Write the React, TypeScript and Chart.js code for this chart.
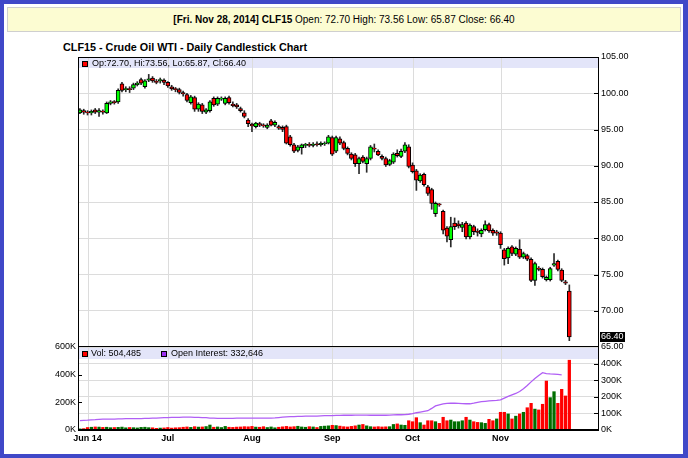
import React, { useEffect, useRef } from "react";
import { Chart, registerables } from "chart.js";

Chart.register(...registerables);

const SYMBOL = "CLF15";
const CHART_TITLE = "CLF15 - Crude Oil WTI - Daily Candlestick Chart";
const LAST_DATE_LABEL = "Fri. Nov 28, 2014";
const FIRST_DATE = "2014-05-29";
const HOLIDAYS = ["2014-07-04", "2014-09-01", "2014-11-27"];
const EMPTY_SLOTS = 7;

const monthStartDates = ["2014-06-02", "2014-07-01", "2014-08-01", "2014-09-02", "2014-10-01", "2014-11-03"];
const monthTickLabels = ["Jun 14", "Jul", "Aug", "Sep", "Oct", "Nov"];

const opens = [
  97.3, 97.6, 97.4, 97.3, 97.7, 97.4, 97.5, 97.3, 98.6, 98.8,
  98.8, 101.3, 100.5, 100.6, 100.7, 101.2, 101.9, 100.9, 101.8, 102.1,
  101.6, 101.7, 101.8, 101.5, 100.9, 100.6, 100.5, 100.1, 99.8, 98.7,
  99.4, 97.8, 98.4, 97.4, 97.6, 99.3, 98.5, 99.2, 98.6, 99.4,
  98.5, 98.4, 97.9, 97.3, 96.3, 95.7, 95.4, 95.8, 95.6, 95.3,
  96.2, 95.6, 95.4, 95.3, 95.4, 94.0, 92.9, 92.1, 92.5, 92.8,
  92.9, 92.8, 93.0, 92.9, 93.0, 93.1, 93.9, 92.0, 93.7, 93.2,
  92.4, 91.6, 91.5, 90.3, 91.2, 90.3, 91.0, 92.4, 92.0, 91.3,
  91.0, 90.2, 90.5, 91.7, 91.3, 92.0, 92.6, 90.1, 89.3, 87.9,
  88.8, 87.1, 86.7, 83.4, 84.7, 83.7, 81.4, 79.8, 82.1, 82.0,
  81.5, 82.1, 80.2, 81.6, 81.0, 80.6, 81.2, 81.9, 81.1, 80.9,
  80.7, 78.4, 77.3, 78.8, 77.8, 78.5, 77.4, 77.6, 77.1, 74.2,
  75.9, 75.7, 74.3, 74.3, 76.3, 76.8, 75.6, 74.0, 72.70,
];
const highs = [
  97.9, 97.8, 97.6, 97.7, 97.9, 97.9, 97.7, 98.8, 99.0, 99.0,
  100.6, 101.5, 100.9, 100.9, 101.4, 101.6, 102.1, 101.9, 102.6, 102.3,
  101.9, 102.1, 102.0, 101.6, 101.1, 100.8, 100.7, 100.3, 100.0, 99.7,
  99.6, 98.7, 98.6, 97.9, 99.0, 99.5, 99.5, 99.5, 99.5, 99.6,
  98.8, 98.6, 98.1, 97.6, 96.5, 95.9, 96.0, 96.0, 95.8, 95.8,
  96.4, 96.2, 95.6, 95.5, 95.6, 94.2, 93.1, 92.8, 93.0, 93.1,
  93.2, 93.2, 93.3, 93.3, 93.3, 94.2, 94.1, 94.1, 94.0, 93.4,
  92.6, 91.8, 91.7, 91.2, 91.4, 91.2, 92.8, 93.0, 92.2, 91.5,
  91.2, 90.9, 91.8, 92.2, 92.3, 93.2, 92.9, 90.4, 89.5, 88.9,
  89.0, 87.3, 86.9, 85.0, 84.8, 83.9, 81.6, 82.9, 82.8, 82.4,
  82.2, 82.3, 82.0, 81.8, 81.3, 81.3, 82.4, 82.1, 81.3, 81.1,
  80.9, 78.6, 78.8, 79.0, 78.8, 79.8, 78.1, 77.8, 77.3, 76.7,
  76.1, 75.9, 74.8, 76.0, 77.9, 77.0, 75.8, 74.2, 73.56,
];
const lows = [
  97.2, 97.1, 97.0, 97.0, 97.2, 96.8, 97.1, 97.2, 98.4, 98.5,
  98.6, 100.2, 100.2, 100.1, 100.5, 101.0, 101.2, 100.7, 101.6, 101.5,
  101.3, 101.4, 101.2, 100.8, 100.4, 100.2, 99.9, 99.6, 98.8, 98.5,
  97.5, 97.5, 97.2, 97.2, 97.4, 98.2, 98.3, 99.0, 98.4, 98.5,
  98.1, 97.9, 97.4, 96.6, 95.4, 94.7, 95.2, 95.4, 95.3, 95.1,
  95.5, 95.4, 95.0, 94.7, 93.0, 92.7, 91.8, 91.9, 91.6, 92.5,
  92.6, 92.6, 92.7, 92.7, 92.8, 93.0, 91.4, 91.8, 92.9, 92.2,
  91.5, 90.8, 89.9, 88.9, 90.4, 89.1, 90.8, 91.9, 91.4, 90.8,
  89.9, 90.0, 90.3, 91.2, 91.1, 91.8, 89.7, 89.0, 86.6, 87.7,
  87.2, 85.9, 84.0, 83.0, 84.4, 80.6, 79.5, 78.8, 81.2, 81.4,
  80.9, 79.9, 79.9, 80.5, 80.3, 80.2, 81.0, 80.8, 80.4, 80.4,
  78.6, 76.3, 76.5, 77.6, 77.6, 77.2, 77.2, 76.9, 74.0, 73.5,
  75.5, 74.5, 74.1, 74.1, 76.1, 75.5, 74.0, 73.6, 65.87,
];
const closes = [
  97.7, 97.4, 97.3, 97.5, 97.4, 97.6, 97.4, 98.6, 98.8, 98.7,
  100.4, 100.4, 100.6, 100.5, 101.2, 101.4, 101.4, 101.7, 102.0, 101.7,
  101.5, 101.9, 101.5, 101.0, 100.6, 100.5, 100.1, 99.9, 99.0, 99.5,
  97.8, 98.5, 97.5, 97.7, 98.8, 98.4, 99.3, 99.3, 99.3, 98.7,
  98.3, 98.1, 97.6, 96.8, 95.8, 95.5, 95.9, 95.6, 95.5, 95.6,
  95.6, 96.0, 95.2, 95.0, 93.1, 92.9, 92.0, 92.6, 92.9, 92.9,
  92.8, 93.0, 92.9, 93.1, 93.1, 94.0, 91.6, 93.9, 93.1, 92.4,
  91.7, 91.0, 90.3, 91.0, 90.6, 91.0, 92.6, 92.3, 91.5, 91.0,
  90.1, 90.7, 91.6, 91.4, 92.0, 92.9, 89.9, 89.2, 88.0, 88.7,
  87.4, 86.2, 84.8, 84.8, 84.6, 81.1, 80.3, 81.6, 81.6, 81.7,
  81.9, 80.2, 81.8, 80.9, 80.8, 81.1, 81.9, 81.0, 80.7, 80.7,
  79.1, 77.2, 78.6, 77.9, 78.6, 77.4, 77.9, 77.1, 74.2, 76.5,
  75.7, 74.7, 74.6, 75.8, 76.5, 75.7, 74.2, 73.8, 66.40,
];
// volume in thousands of contracts
const volumesK = [
  8, 10, 18, 20, 22, 21, 19, 20, 17, 18,
  19, 21, 16, 18, 17, 15, 19, 20, 17, 16,
  12, 14, 15, 18, 14, 16, 17, 20, 22, 19,
  24, 21, 22, 25, 36, 20, 22, 18, 26, 20,
  19, 21, 22, 24, 23, 26, 21, 20, 24, 18,
  22, 16, 20, 23, 26, 22, 24, 27, 22, 20,
  24, 22, 18, 26, 28, 30, 34, 32, 28, 24,
  22, 26, 30, 36, 40, 30, 24, 22, 24, 22,
  23, 24, 40, 44, 36, 34, 67, 60, 89, 53,
  36, 67, 67, 60, 48, 92, 67, 72, 60, 60,
  67, 92, 72, 60, 55, 53, 48, 77, 67, 80,
  128, 128, 116, 80, 100, 116, 128, 161, 193, 151,
  145, 186, 354, 234, 277, 193, 294, 246, 504.485,
];
// open interest in thousands of contracts (published with a lag)
const openInterestK = [
  56, 58, 59, 61, 62, 64, 65, 65, 66, 66,
  67, 67, 68, 68, 69, 69, 69, 70, 70, 71,
  72, 73, 74, 75, 76, 76, 76, 77, 77, 77,
  76, 76, 75, 74, 72, 71, 70, 70, 70, 70,
  70, 71, 71, 71, 71, 71, 71, 71, 72, 72,
  72, 73, 75, 77, 79, 80, 81, 82, 82, 83,
  83, 84, 84, 85, 86, 87, 87, 88, 88, 89,
  89, 89, 90, 90, 90, 90, 89, 89, 89, 89,
  89, 90, 91, 92, 92, 93, 95, 99, 104, 108,
  112, 116, 130, 145, 152, 157, 160, 161, 161, 160,
  159, 158, 158, 162, 167, 171, 173, 175, 177, 178,
  182, 192, 202, 212, 220, 232, 248, 268, 290, 310,
  328, 345, 340, 338, 337, 335, 332.646, null, null,
];

const FONT = '"Liberation Sans", Arial, Helvetica, sans-serif';
const UP = "#00ff00";
const DOWN = "#ff0000";
const VOL_UP = "#006e00";
const VOL_DOWN = "#ff0000";
const OI_COLOR = "#b05ef5";
const GRID = "#dcdcdc";
const BAND = "#e3e5f9";

function tradingDays(start: string, count: number, holidays: string[]) {
  const out: string[] = [];
  const d = new Date(start + "T00:00:00Z");
  while (out.length < count) {
    const dow = d.getUTCDay();
    const iso = d.toISOString().slice(0, 10);
    if (dow !== 0 && dow !== 6 && !holidays.includes(iso)) out.push(iso);
    d.setUTCDate(d.getUTCDate() + 1);
  }
  return out;
}

const dates = tradingDays(FIRST_DATE, closes.length, HOLIDAYS);
const categories = [...dates, ...Array.from({ length: EMPTY_SLOTS }, (_, i) => `pad-${i}`)];
const monthIdx = monthStartDates.map((d) => dates.indexOf(d));

const last = closes.length - 1;
const fmt2 = (v: number) => v.toFixed(2);
const fmtInt = (k: number) => Math.round(k * 1000).toLocaleString("en-US");
const lastOI = (() => {
  for (let i = openInterestK.length - 1; i >= 0; i--) if (openInterestK[i] != null) return openInterestK[i] as number;
  return 0;
})();

function drawMonthLines(chart: any) {
  const { ctx, chartArea: a, scales } = chart;
  const x = scales.x;
  ctx.save();
  ctx.fillStyle = GRID;
  monthIdx.forEach((i) => {
    const px = Math.round(x.getPixelForValue(i));
    ctx.fillRect(px, a.top, 1, a.bottom - a.top);
  });
  ctx.restore();
}

const priceDecor = {
  id: "priceDecor",
  beforeDraw(chart: any) {
    const { ctx, chartArea: a } = chart;
    ctx.save();
    ctx.fillStyle = BAND;
    ctx.fillRect(a.left + 1, a.top + 1, a.right - a.left - 1, 10);
    ctx.restore();
  },
  beforeDatasetsDraw(chart: any) {
    drawMonthLines(chart);
  },
  afterDraw(chart: any) {
    const { ctx, chartArea: a, scales } = chart;
    const y = scales.y;
    ctx.save();
    ctx.fillStyle = "#000";
    ctx.fillRect(a.left + 4, a.top + 4, 6, 6);
    ctx.fillStyle = DOWN;
    ctx.fillRect(a.left + 5, a.top + 5, 4, 4);
    ctx.fillStyle = "#000";
    ctx.font = `9px ${FONT}`;
    ctx.textBaseline = "middle";
    ctx.textAlign = "left";
    ctx.fillText(
      `Op:${fmt2(opens[last])}, Hi:${fmt2(highs[last])}, Lo:${fmt2(lows[last])}, Cl:${fmt2(closes[last])}`,
      a.left + 14,
      a.top + 7
    );
    const w = a.right - a.left;
    ctx.fillStyle = "#000";
    ctx.fillRect(a.left, a.top, w + 1, 1);
    ctx.fillRect(a.left, a.top, 1, a.bottom - a.top);
    ctx.fillRect(a.right, a.top, 1, a.bottom - a.top);
    ctx.fillRect(a.left, a.bottom - 1, w + 1, 2);
    y.ticks.forEach((t: any) => {
      if (t.value <= y.min || t.value >= y.max) return;
      const py = Math.round(y.getPixelForValue(t.value));
      ctx.fillRect(a.right - 4, py, 4, 1);
    });
    const py = y.getPixelForValue(closes[last]);
    ctx.fillStyle = "#000";
    ctx.fillRect(a.right + 2, Math.round(py) - 5, 25, 10);
    ctx.fillStyle = "#fff";
    ctx.font = `9px ${FONT}`;
    ctx.fillText(fmt2(closes[last]), a.right + 3, py);
    ctx.restore();
  },
};

const volDecor = {
  id: "volDecor",
  beforeDraw(chart: any) {
    const { ctx, chartArea: a } = chart;
    ctx.save();
    ctx.fillStyle = BAND;
    ctx.fillRect(a.left + 1, a.top + 1, a.right - a.left - 1, 11);
    ctx.restore();
  },
  beforeDatasetsDraw(chart: any) {
    drawMonthLines(chart);
  },
  afterDraw(chart: any) {
    const { ctx, chartArea: a, scales } = chart;
    const yv = scales.yv;
    const yoi = scales.yoi;
    ctx.save();
    ctx.font = `9px ${FONT}`;
    ctx.textBaseline = "middle";
    ctx.textAlign = "left";
    ctx.fillStyle = "#000";
    ctx.fillRect(a.left + 4, a.top + 4, 6, 6);
    ctx.fillStyle = VOL_DOWN;
    ctx.fillRect(a.left + 5, a.top + 5, 4, 4);
    ctx.fillStyle = "#000";
    ctx.fillText(`Vol: ${fmtInt(volumesK[last])}`, a.left + 13, a.top + 7);
    ctx.fillRect(a.left + 83, a.top + 4, 6, 6);
    ctx.fillStyle = "#9b30f0";
    ctx.fillRect(a.left + 84, a.top + 5, 4, 4);
    ctx.fillStyle = "#000";
    ctx.fillText(`Open Interest: ${fmtInt(lastOI)}`, a.left + 93, a.top + 7);
    const w = a.right - a.left;
    ctx.fillRect(a.left, a.top, 1, a.bottom - a.top);
    ctx.fillRect(a.right, a.top, 1, a.bottom - a.top);
    ctx.fillRect(a.left, a.bottom - 1, w + 1, 2);
    yv.ticks.forEach((t: any) => {
      if (t.value <= yv.min || t.value >= yv.max) return;
      ctx.fillRect(a.left, Math.round(yv.getPixelForValue(t.value)), 4, 1);
    });
    yoi.ticks.forEach((t: any) => {
      if (t.value <= yoi.min || t.value >= yoi.max) return;
      ctx.fillRect(a.right - 4, Math.round(yoi.getPixelForValue(t.value)), 4, 1);
    });
    ctx.restore();
  },
};

export default function App() {
  const priceRef = useRef<HTMLCanvasElement>(null);
  const volRef = useRef<HTMLCanvasElement>(null);

  useEffect(() => {
    const bodyColors = closes.map((c, i) => (c >= opens[i] ? UP : DOWN));
    // volume bar colour: close versus previous close
    const volColors = closes.map((c, i) => {
      const ref = i === 0 ? opens[0] : closes[i - 1];
      return c >= ref ? VOL_UP : VOL_DOWN;
    });

    const priceChart = new Chart(priceRef.current as HTMLCanvasElement, {
      type: "bar",
      data: {
        labels: categories,
        datasets: [
          {
            label: "body",
            data: opens.map((o, i) => [o, closes[i]]) as any,
            backgroundColor: bodyColors,
            borderColor: "#000",
            borderWidth: 1,
            borderSkipped: false,
            barThickness: 4,
            minBarLength: 1,
            grouped: false,
            order: 0,
          } as any,
          {
            label: "wick",
            data: lows.map((l, i) => [l, highs[i]]) as any,
            backgroundColor: "#2a2a2a",
            borderWidth: 0,
            barThickness: 1,
            grouped: false,
            order: 1,
          } as any,
        ],
      },
      options: {
        responsive: false,
        animation: false,
        devicePixelRatio: 1,
        events: [],
        layout: { padding: { left: 78, top: 57, right: 0, bottom: 111 } },
        plugins: { legend: { display: false }, tooltip: { enabled: false } },
        scales: {
          x: { display: false, offset: true },
          y: {
            position: "right",
            min: 65,
            max: 105,
            ticks: {
              stepSize: 5,
              padding: 3,
              color: "#000",
              font: { size: 9, family: FONT },
              callback: (v: any) => Number(v).toFixed(2),
            },
            grid: { color: GRID, drawTicks: false },
            border: { display: false },
            afterFit: (s: any) => {
              s.width = 90;
            },
          },
        },
      } as any,
      plugins: [priceDecor],
    });

    const volChart = new Chart(volRef.current as HTMLCanvasElement, {
      type: "bar",
      data: {
        labels: categories,
        datasets: [
          {
            type: "line",
            label: "Open Interest",
            data: openInterestK as any,
            yAxisID: "yoi",
            borderColor: OI_COLOR,
            borderWidth: 1.3,
            pointRadius: 0,
            tension: 0,
            spanGaps: false,
            order: 0,
          } as any,
          {
            type: "bar",
            label: "Vol",
            data: volumesK,
            yAxisID: "yv",
            backgroundColor: volColors,
            borderWidth: 0,
            barThickness: 2.6,
            order: 1,
          } as any,
        ],
      },
      options: {
        responsive: false,
        animation: false,
        devicePixelRatio: 1,
        events: [],
        layout: { padding: { left: 8, top: 347, right: 0, bottom: 8 } },
        plugins: { legend: { display: false }, tooltip: { enabled: false } },
        scales: {
          x: {
            offset: true,
            grid: { display: false, drawTicks: false },
            border: { display: false },
            ticks: {
              autoSkip: false,
              maxRotation: 0,
              minRotation: 0,
              padding: 3,
              color: "#000",
              font: { size: 9, weight: "bold", family: FONT },
              callback: (_v: any, i: number) => {
                const k = monthIdx.indexOf(i);
                return k >= 0 ? monthTickLabels[k] : "";
              },
            },
            afterFit: (s: any) => {
              s.height = 20;
            },
          },
          yv: {
            position: "left",
            min: 0,
            max: 600,
            ticks: {
              stepSize: 200,
              padding: 2,
              color: "#000",
              font: { size: 9, family: FONT },
              callback: (v: any) => `${v}K`,
            },
            grid: { display: false, drawTicks: false },
            border: { display: false },
            afterFit: (s: any) => {
              s.width = 70;
            },
          },
          yoi: {
            position: "right",
            min: 0,
            max: 500,
            ticks: {
              stepSize: 100,
              padding: 3,
              color: "#000",
              font: { size: 9, family: FONT },
              callback: (v: any) => (Number(v) >= 500 ? "" : `${v}K`),
            },
            grid: { color: GRID, drawTicks: false },
            border: { display: false },
            afterFit: (s: any) => {
              s.width = 90;
            },
          },
        },
      } as any,
      plugins: [volDecor],
    });

    return () => {
      priceChart.destroy();
      volChart.destroy();
    };
  }, []);

  const canvasStyle: React.CSSProperties = { position: "absolute", left: 0, top: 0, width: 688, height: 458 };

  return (
    <div
      style={{
        position: "absolute",
        left: 0,
        top: 0,
        width: 688,
        height: 458,
        overflow: "hidden",
        background: "#4048c8",
        fontFamily: FONT,
      }}
    >
      <div style={{ position: "absolute", left: 4, top: 4, width: 679, height: 450, background: "#fff" }} />
      <div
        style={{
          position: "absolute",
          left: 7,
          top: 7,
          width: 672,
          height: 23,
          background: "#fcfcd2",
          border: "1px solid #cfcfcf",
          textAlign: "center",
          lineHeight: "23px",
          fontSize: 10,
          color: "#000",
          whiteSpace: "nowrap",
        }}
      >
        <b>
          [{LAST_DATE_LABEL}] {SYMBOL}
        </b>{" "}
        Open: {fmt2(opens[last])} High: {fmt2(highs[last])} Low: {fmt2(lows[last])} Close: {fmt2(closes[last])}
      </div>
      <div
        style={{
          position: "absolute",
          left: 63,
          top: 40,
          fontSize: 10.8,
          lineHeight: "14px",
          fontWeight: "bold",
          color: "#000",
          whiteSpace: "nowrap",
        }}
      >
        {CHART_TITLE}
      </div>
      <canvas ref={priceRef} width={688} height={458} style={canvasStyle} />
      <canvas ref={volRef} width={688} height={458} style={canvasStyle} />
    </div>
  );
}
